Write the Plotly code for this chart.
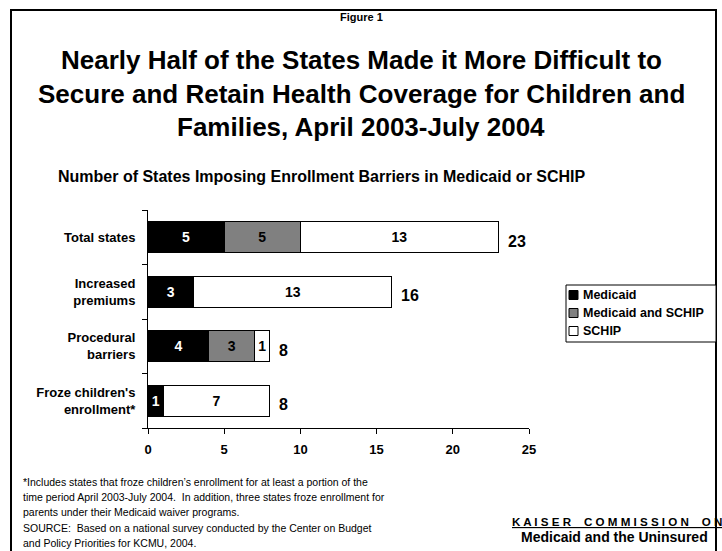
import plotly.graph_objects as go

categories = ["Total states", "Increased<br>premiums", "Procedural<br>barriers", "Froze children's<br>enrollment*"]
medicaid = [5, 3, 4, 1]
medicaid_schip = [5, 0, 3, 0]
schip = [13, 13, 1, 7]
totals = [23, 16, 8, 8]
series_names = ["Medicaid", "Medicaid and SCHIP", "SCHIP"]
x_ticks = [0, 5, 10, 15, 20, 25]

W, H = 722, 551
L, R, T, B = 148, 529, 210, 428

def px(x):
    return (x - L) / (R - L)

def py(y):
    return (B - y) / (B - T)

FONT = "Liberation Sans, Arial, sans-serif"

fig = go.Figure()
fills = ["#000000", "#808080", "#ffffff"]
txtcol = ["#ffffff", "#000000", "#000000"]
for name, vals, fc, tc in zip(series_names, [medicaid, medicaid_schip, schip], fills, txtcol):
    fig.add_trace(go.Bar(
        y=categories, x=vals, name=name, orientation="h",
        marker=dict(color=fc, line=dict(color="#000000", width=1)),
        text=[f"<b>{v}</b>" if v else "" for v in vals],
        textposition="inside", insidetextanchor="middle", textangle=0,
        insidetextfont=dict(family=FONT, size=14, color=tc),
        constraintext="none", showlegend=False,
    ))

for c, t in zip(categories, totals):
    fig.add_annotation(x=t, y=c, xref="x", yref="y", text=f"<b>{t}</b>", showarrow=False,
                       xanchor="left", xshift=7, yshift=-4,
                       font=dict(family=FONT, size=16, color="#000"))

fig.update_layout(
    width=W, height=H, barmode="stack", bargap=0.43,
    margin=dict(l=L, r=W - R, t=T, b=H - B, autoexpand=False),
    paper_bgcolor="#ffffff", plot_bgcolor="#ffffff",
    font=dict(family=FONT, size=11, color="#000"),
    showlegend=False,
    xaxis=dict(range=[0, 25], tickvals=x_ticks, ticktext=[f"<b>{v}</b>" for v in x_ticks],
               ticks="outside", ticklen=5, tickcolor="#000", showline=True, linecolor="#000",
               linewidth=1, showgrid=False, zeroline=False, ticklabelstandoff=4,
               tickfont=dict(family=FONT, size=13)),
    yaxis=dict(autorange="reversed", ticks="outside", ticklen=5, tickcolor="#000",
               tickson="boundaries", showline=True, linecolor="#000", linewidth=1,
               showgrid=False, ticktext=[f"<b>{c}</b>" for c in categories],
               tickvals=categories, ticklabelstandoff=9, tickfont=dict(family=FONT, size=13)),
)

# outer border
fig.add_shape(type="rect", xref="paper", yref="paper", x0=px(11), x1=px(716), y0=py(580), y1=py(10),
              line=dict(color="#000", width=2), layer="below")

# legend (manual, from series names / fills)
fig.add_shape(type="rect", xref="paper", yref="paper", x0=px(566), x1=px(716), y0=py(342), y1=py(285),
              line=dict(color="#000", width=1), fillcolor="#fff")
for i, (name, fc) in enumerate(zip(series_names, fills)):
    yc = 295 + i * 18
    fig.add_shape(type="rect", xref="paper", yref="paper", x0=px(569), x1=px(578),
                  y0=py(yc + 4.5), y1=py(yc - 4.5), line=dict(color="#000", width=1), fillcolor=fc)
    fig.add_annotation(text=f"<b>{name}</b>", x=px(581), y=py(yc), xref="paper", yref="paper",
                       showarrow=False, xanchor="left", yanchor="middle",
                       font=dict(family=FONT, size=12.5, color="#000"))

def ann(text, x, y, size, xanchor="center", align="center"):
    fig.add_annotation(text=text, x=px(x), y=py(y), xref="paper", yref="paper", showarrow=False,
                       xanchor=xanchor, yanchor="middle", align=align,
                       font=dict(family=FONT, size=size, color="#000"))

ann("<b>Figure 1</b>", 361, 17, 11)
ann("<b>Nearly Half of the States Made it More Difficult to</b>", 361, 60, 26)
ann("<b>Secure and Retain Health Coverage for Children and</b>", 361, 94, 26)
ann("<b>Families, April 2003-July 2004</b>", 361, 127, 26)
ann("<b>Number of States Imposing Enrollment Barriers in Medicaid or SCHIP</b>", 56, 176, 16, xanchor="left")

foot = ["*Includes states that froze children’s enrollment for at least a portion of the",
        "time period April 2003-July 2004.  In addition, three states froze enrollment for",
        "parents under their Medicaid waiver programs.",
        "SOURCE:  Based on a national survey conducted by the Center on Budget",
        "and Policy Priorities for KCMU, 2004."]
for i, line in enumerate(foot):
    ann(line, 21, 482 + i * 15.2, 10.5, xanchor="left", align="left")

ann("<b><u>K A I S E R    C O M M I S S I O N    O N</u></b>", 510, 521, 11.6, xanchor="left")
ann("<b>Medicaid and the Uninsured</b>", 614, 537, 14)

fig.write_html("out.html")
